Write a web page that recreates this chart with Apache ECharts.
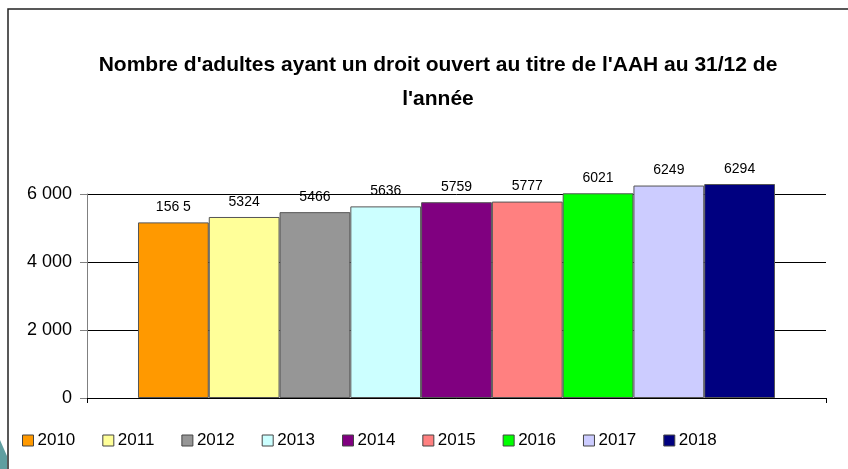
<!DOCTYPE html>
<html lang="fr">
<head>
    <meta charset="utf-8">
    <title>AAH</title>
    <script src="https://cdn.jsdelivr.net/npm/echarts@6/dist/echarts.min.js"></script>
</head>
<body style="margin:0;background:#fff;">
<div id="main" style="width:848px;height:469px;"></div>
<script type="text/javascript">
    // données
    var years = ['2010', '2011', '2012', '2013', '2014', '2015', '2016', '2017', '2018'];
    var values = [5165, 5324, 5466, 5636, 5759, 5777, 6021, 6249, 6294];
    var valueLabels = ['156 5', '5324', '5466', '5636', '5759', '5777', '6021', '6249', '6294'];
    var yTicks = [0, 2000, 4000, 6000];

    var colors = ['#FF9900', '#FFFF99', '#969696', '#CCFFFF', '#800080', '#FF8080', '#00FF00', '#CCCCFF', '#000080'];

    var series = years.map(function (y, i) {
        return {
            name: y,
            type: 'bar',
            data: [values[i]],
            clip: false,
            barGap: '0%',
            barCategoryGap: '13.8%',
            itemStyle: {
                color: colors[i],
                borderColor: '#555555',
                borderWidth: 1
            },
            label: {
                show: true,
                position: 'top',
                distance: 8,
                color: '#000',
                fontSize: 14,
                fontFamily: 'Liberation Sans',
                formatter: function () { return valueLabels[i]; }
            }
        };
    });

    var myChart = echarts.init(document.getElementById('main'));
    myChart.setOption({
        backgroundColor: '#FFFFFF',
        animation: false,
        color: colors,
        title: {
            text: "Nombre d'adultes ayant un droit ouvert au titre de l'AAH au 31/12 de\nl'année",
            left: 433,
            textAlign: 'center',
            top: 43,
            textStyle: {
                color: '#000',
                fontSize: 21,
                fontWeight: 'bold',
                fontFamily: 'Liberation Sans',
                lineHeight: 34
            }
        },
        legend: {
            data: years,
            left: 17,
            top: 427,
            itemWidth: 11,
            itemHeight: 11,
            itemGap: 27,
            icon: 'rect',
            itemStyle: { borderColor: '#444', borderWidth: 1 },
            textStyle: { color: '#000', fontSize: 17, fontFamily: 'Liberation Sans', padding: [0, 0, 0, -1] }
        },
        grid: {
            left: 87,
            right: 22,
            top: 194,
            bottom: 71
        },
        xAxis: {
            type: 'category',
            data: [''],
            axisLine: { lineStyle: { color: '#000', width: 1 } },
            axisTick: { show: true, length: 5, lineStyle: { color: '#000' } },
            axisLabel: { show: false }
        },
        yAxis: {
            type: 'value',
            min: yTicks[0],
            max: yTicks[yTicks.length - 1],
            interval: 2000,
            axisLine: { show: true, lineStyle: { color: '#808080', width: 1 } },
            axisTick: { show: true, length: 7, lineStyle: { color: '#808080' } },
            splitLine: { show: true, lineStyle: { color: '#000', width: 1 } },
            axisLabel: {
                color: '#000',
                fontSize: 18,
                fontFamily: 'Liberation Sans',
                margin: 15,
                formatter: function (v) {
                    return String(v).replace(/\B(?=(\d{3})+(?!\d))/g, ' ');
                }
            }
        },
        graphic: [
            {
                type: 'rect',
                shape: { x: 8, y: 9, width: 900, height: 500 },
                style: { fill: 'none', stroke: '#222', lineWidth: 1.5 },
                silent: true
            },
            {
                type: 'polygon',
                shape: { points: [[0, 440], [7, 456], [7, 469], [0, 469]] },
                style: { fill: '#5F9EA0' },
                silent: true
            }
        ],
        series: series
    });
</script>
</body>
</html>
